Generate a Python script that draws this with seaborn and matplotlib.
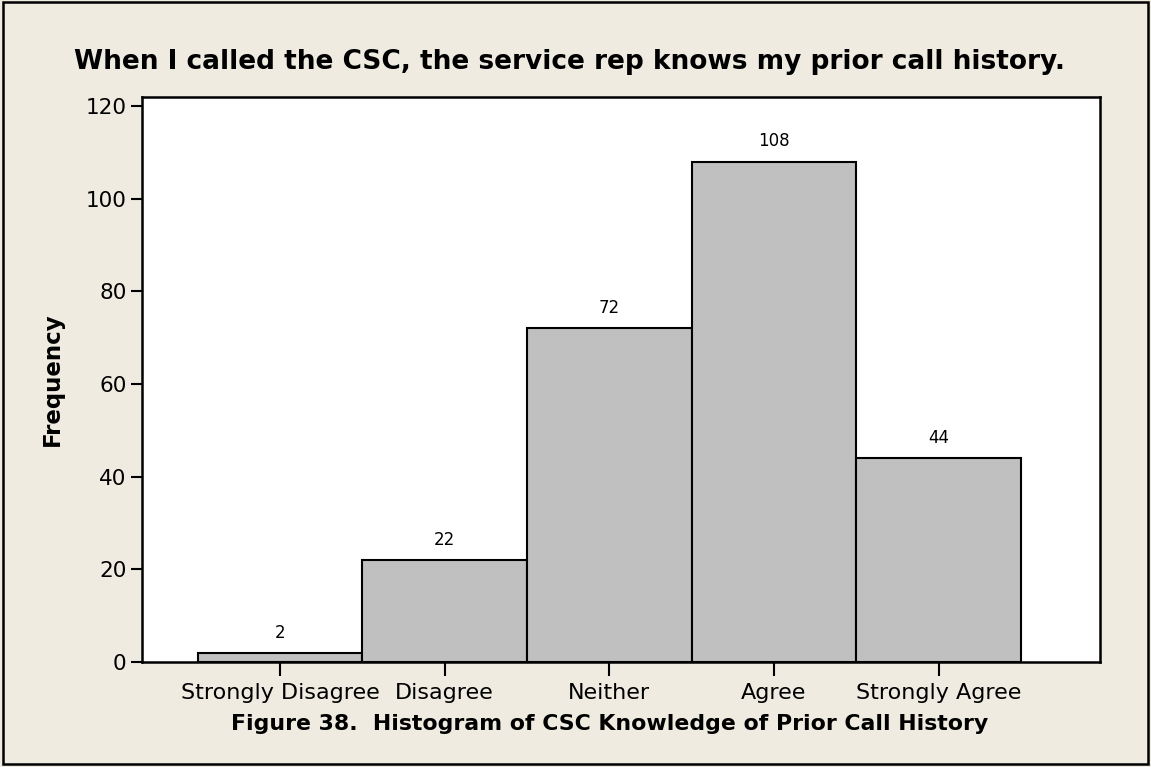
import matplotlib
matplotlib.use("Agg")
import matplotlib.pyplot as plt
import seaborn as sns
import pandas as pd
from matplotlib.patches import Rectangle

categories = ["Strongly Disagree", "Disagree", "Neither", "Agree", "Strongly Agree"]
frequencies = [2, 22, 72, 108, 44]
yticks = [0, 20, 40, 60, 80, 100, 120]

title = "When I called the CSC, the service rep knows my prior call history."
xlabel = "Figure 38.  Histogram of CSC Knowledge of Prior Call History"
ylabel = "Frequency"

df = pd.DataFrame({"Response": categories, "Frequency": frequencies})

sns.set_theme(style="white")
plt.rcParams["font.family"] = ["DejaVu Sans"]

bg = "#EFEBE1"
fig = plt.figure(figsize=(11.51, 7.67), dpi=100, facecolor=bg)
ax = fig.add_axes([142/1151, (767-662)/767, 958/1151, (662-96.7)/767])
ax.set_facecolor("white")

sns.barplot(data=df, x="Response", y="Frequency", order=categories,
            color="#C0C0C0", saturation=1, width=1.0, edgecolor="black",
            linewidth=1.5, ax=ax)

for c in ax.containers:
    ax.bar_label(c, labels=[str(v) for v in frequencies], padding=8,
                 fontsize=12, color="black")

ax.set_xlim(-0.838, 4.98)
ax.set_ylim(0, 122)
ax.set_yticks(yticks)
ax.set_yticklabels([str(t) for t in yticks])
ax.tick_params(axis="both", which="both", direction="out", color="black",
               width=1.5, labelcolor="black")
ax.tick_params(axis="x", length=10, pad=5, labelsize=16)
ax.tick_params(axis="y", length=8, pad=3, labelsize=15.5)
ax.xaxis.set_ticks_position("bottom")
ax.yaxis.set_ticks_position("left")
for s in ax.spines.values():
    s.set_visible(True)
    s.set_color("black")
    s.set_linewidth(1.8)

ax.set_xlabel(xlabel, fontsize=15.8, fontweight="bold", color="black")
ax.xaxis.set_label_coords((610 - 142) / 958, (662 - 714) / 565.3)
ax.set_ylabel(ylabel, fontsize=16.5, fontweight="bold", color="black")
ax.yaxis.set_label_coords((64 - 142) / 958, 0.5)

fig.text(570/1151, 1 - 62/767, title, ha="center", va="center",
         fontsize=19, fontweight="bold", color="black")

fig.patches.append(Rectangle((0.003, 0.004), 0.994, 0.993, transform=fig.transFigure,
                             fill=False, edgecolor="black", linewidth=1.8))

fig.savefig("out.png", dpi=100, facecolor=bg)
